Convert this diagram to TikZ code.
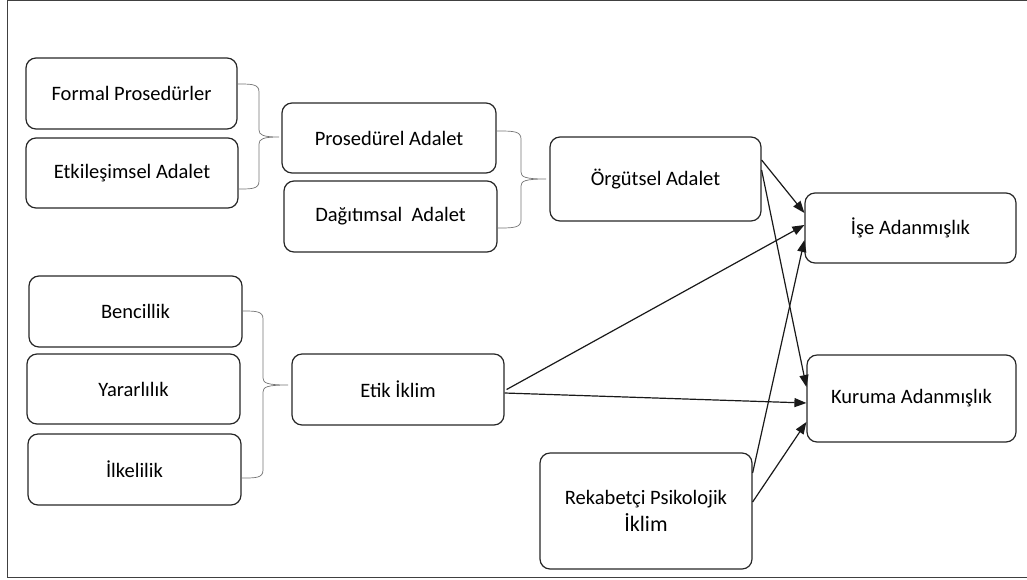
\documentclass[tikz,border=0pt]{standalone}
\usepackage{fontspec}
\setmainfont{Carlito}
\usetikzlibrary{arrows.meta}
\begin{document}
\begin{tikzpicture}[x=1pt,y=-1pt,
  box/.style={draw=black!85, line width=1.2pt, rounded corners=10pt, align=center,
    font=\fontsize{20.5}{28}\selectfont, inner sep=0pt},
  arr/.style={draw=black!90, line width=1.2pt, -{Triangle[length=12pt,width=9pt]}},
  brace/.style={draw=black!55, line width=0.7pt}]
\useasboundingbox (0,0) rectangle (1027,579);
\draw[black!75, line width=1pt] (7,0.5) -- (1040,0.5);
\draw[black!75, line width=1pt] (7,0.5) -- (7,577.5) -- (1040,577.5);
% boxes
\node[box, minimum width=211pt, minimum height=71pt] (fp) at (131.5,93.5) {Formal Prosedürler};
\node[box, minimum width=212pt, minimum height=70pt] (ea) at (132,173) {Etkileşimsel Adalet};
\node[box, minimum width=214pt, minimum height=70pt] (pa) at (389,138) {Prosedürel Adalet};
\node[box, minimum width=213pt, minimum height=71pt] (da) at (390.5,216.5) {Dağıtımsal\ \ Adalet};
\node[box, minimum width=211pt, minimum height=84pt] (oa) at (655.5,179) {Örgütsel Adalet};
\node[box, minimum width=211pt, minimum height=70pt] (ia) at (910.5,228) {İşe Adanmışlık};
\node[box, minimum width=209pt, minimum height=87pt] (ka) at (911.5,398.5) {Kuruma Adanmışlık};
\node[box, minimum width=213pt, minimum height=71pt] (bc) at (135.5,311.5) {Bencillik};
\node[box, minimum width=213pt, minimum height=70pt] (yr) at (133.5,389) {Yararlılık};
\node[box, minimum width=213pt, minimum height=71pt] (il) at (134.5,469.5) {İlkelilik};
\node[box, minimum width=212pt, minimum height=71pt] (ei) at (398,389.5) {Etik İklim};
\node[box, minimum width=212pt, minimum height=116pt] (rp) at (646,511) {Rekabetçi Psikolojik\\[-1pt]{\fontsize{22}{28}\selectfont İklim}};
% braces
\draw[brace] (237.5,84) .. controls (252,84) and (259,84) .. (259,92) -- (259,130)
  .. controls (259,135) and (263,137) .. (279,137)
  .. controls (263,137) and (259,139) .. (259,144) -- (259,181)
  .. controls (259,189) and (252,189) .. (238,189);
\draw[brace] (497,131) .. controls (513,131) and (521,131) .. (521,139) -- (521,172)
  .. controls (521,177) and (525,179) .. (546,179)
  .. controls (525,179) and (521,181) .. (521,186) -- (521,220)
  .. controls (521,228) and (513,228) .. (497,228);
\draw[brace] (242,311) .. controls (256,311) and (263,311) .. (263,319) -- (263,378)
  .. controls (263,383) and (267,385) .. (288,385)
  .. controls (267,385) and (263,387) .. (263,392) -- (263,470)
  .. controls (263,478) and (256,478) .. (242,478);
% arrows
\draw[arr] ([yshift=19pt]oa.east) -- ([yshift=15pt]ia.west);
\draw[arr] ([yshift=9pt]oa.east) -- ([yshift=11.5pt]ka.west);
\draw[arr] ([xshift=2pt]ei.east) -- ([yshift=3pt]ia.west);
\draw[arr] ([yshift=-3.5pt]ei.east) -- ([yshift=-4.5pt]ka.west);
\draw[arr] ([yshift=38pt]rp.east) -- ([yshift=-12pt]ia.west);
\draw[arr] ([yshift=9pt]rp.east) -- ([yshift=-23.5pt]ka.west);
\end{tikzpicture}
\end{document}
